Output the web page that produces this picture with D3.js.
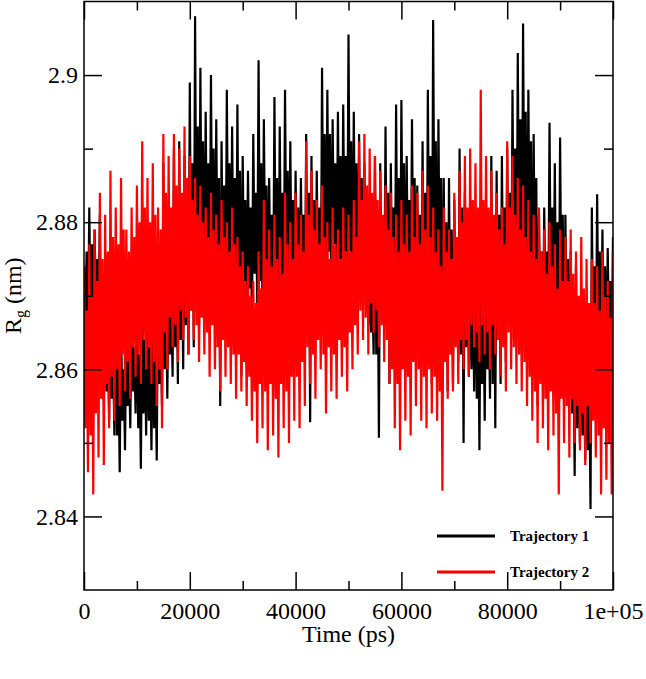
<!DOCTYPE html>
<html>
<head>
<meta charset="utf-8">
<script src="https://cdn.jsdelivr.net/npm/d3@7"></script>
<style>
  body { margin: 0; background: #fff; }
  svg { display: block; font-family: "Liberation Serif", "Times New Roman", serif; }
</style>
</head>
<body>
<div id="chart-area"></div>
<script>
// Rg of two trajectories, every 1000 ps:
// spike top (Hi), solid band top/bottom (CoreHi/CoreLo) and spike bottom (Lo)
const timeSteps = d3.range(0, 100001, 1000)

const traj1Hi = [2.874,2.882,2.879,2.881,2.872,2.870,2.869,2.867,2.866,2.868,
  2.869,2.870,2.869,2.866,2.873,2.888,2.874,2.890,2.891,2.889,
  2.899,2.908,2.901,2.895,2.900,2.894,2.891,2.898,2.893,2.896,
  2.889,2.887,2.892,2.902,2.894,2.886,2.897,2.893,2.898,2.891,
  2.887,2.886,2.892,2.889,2.887,2.901,2.898,2.894,2.895,2.896,
  2.9055,2.895,2.892,2.888,2.872,2.889,2.888,2.893,2.888,2.896,
  2.8966,2.889,2.894,2.885,2.891,2.898,2.9075,2.894,2.886,2.886,
  2.883,2.890,2.884,2.878,2.877,2.876,2.875,2.889,2.887,2.889,
  2.890,2.898,2.903,2.907,2.898,2.892,2.881,2.882,2.8935,2.888,
  2.8915,2.881,2.876,2.874,2.870,2.868,2.882,2.8838,2.879,2.8765,2.878]
const traj1CoreHi = [2.876,2.877,2.875,2.868,2.864,2.862,2.861,2.860,2.862,2.863,
  2.862,2.864,2.863,2.862,2.866,2.872,2.870,2.875,2.878,2.879,
  2.888,2.893,2.891,2.888,2.890,2.886,2.885,2.888,2.886,2.887,
  2.883,2.882,2.884,2.888,2.885,2.881,2.886,2.884,2.887,2.883,
  2.882,2.881,2.884,2.883,2.882,2.892,2.892,2.888,2.889,2.889,
  2.891,2.888,2.886,2.882,2.871,2.877,2.880,2.884,2.882,2.886,
  2.888,2.883,2.886,2.881,2.884,2.889,2.891,2.886,2.880,2.879,
  2.877,2.882,2.878,2.873,2.872,2.870,2.869,2.880,2.881,2.882,
  2.884,2.890,2.894,2.895,2.891,2.886,2.876,2.876,2.882,2.880,
  2.881,2.875,2.866,2.864,2.862,2.860,2.874,2.876,2.874,2.872,2.872]
const traj1CoreLo = [2.867,2.866,2.869,2.861,2.857,2.856,2.851,2.853,2.855,2.857,
  2.852,2.854,2.853,2.852,2.858,2.860,2.862,2.863,2.864,2.866,
  2.868,2.872,2.874,2.874,2.873,2.870,2.872,2.873,2.871,2.870,
  2.872,2.871,2.873,2.872,2.873,2.871,2.870,2.872,2.874,2.871,
  2.870,2.870,2.868,2.869,2.870,2.874,2.876,2.877,2.875,2.876,
  2.876,2.874,2.873,2.870,2.865,2.862,2.869,2.867,2.871,2.870,
  2.872,2.870,2.872,2.869,2.868,2.873,2.874,2.870,2.865,2.864,
  2.866,2.862,2.863,2.860,2.856,2.858,2.860,2.858,2.864,2.866,
  2.868,2.872,2.875,2.876,2.874,2.870,2.867,2.868,2.869,2.866,
  2.867,2.863,2.854,2.852,2.851,2.849,2.862,2.864,2.863,2.864,2.865]
const traj1Lo = [2.864,2.862,2.866,2.858,2.853,2.851,2.846,2.849,2.852,2.854,
  2.8465,2.851,2.849,2.8476,2.855,2.856,2.859,2.858,2.860,2.862,
  2.863,2.866,2.868,2.869,2.866,2.855,2.867,2.869,2.866,2.859,
  2.868,2.866,2.869,2.867,2.868,2.866,2.863,2.867,2.869,2.866,
  2.865,2.866,2.8528,2.864,2.865,2.868,2.870,2.871,2.869,2.871,
  2.870,2.869,2.868,2.866,2.862,2.8507,2.866,2.858,2.867,2.865,
  2.866,2.864,2.867,2.863,2.861,2.858,2.862,2.860,2.857,2.858,
  2.861,2.850,2.859,2.857,2.849,2.853,2.856,2.852,2.858,2.861,
  2.864,2.865,2.866,2.864,2.862,2.855,2.863,2.864,2.865,2.862,
  2.859,2.858,2.8455,2.850,2.8476,2.841,2.857,2.860,2.859,2.861,2.860]

const traj2Hi = [2.874,2.877,2.879,2.884,2.881,2.887,2.882,2.886,2.879,2.882,
  2.885,2.891,2.886,2.888,2.882,2.892,2.889,2.892,2.890,2.893,
  2.889,2.886,2.885,2.882,2.884,2.881,2.883,2.880,2.882,2.878,
  2.876,2.874,2.872,2.876,2.883,2.879,2.881,2.878,2.884,2.880,
  2.884,2.881,2.891,2.887,2.883,2.885,2.880,2.882,2.879,2.882,
  2.881,2.883,2.891,2.892,2.890,2.889,2.887,2.885,2.884,2.881,
  2.883,2.881,2.885,2.884,2.887,2.885,2.882,2.879,2.882,2.879,
  2.884,2.887,2.889,2.890,2.888,2.898,2.889,2.887,2.884,2.882,
  2.891,2.889,2.886,2.885,2.883,2.881,2.882,2.879,2.880,2.877,
  2.879,2.878,2.879,2.876,2.878,2.875,2.875,2.874,2.876,2.872,2.876]
const traj2CoreHi = [2.868,2.870,2.872,2.875,2.876,2.878,2.877,2.879,2.876,2.878,
  2.880,2.882,2.880,2.881,2.879,2.884,2.882,2.885,2.884,2.886,
  2.883,2.881,2.880,2.878,2.879,2.877,2.878,2.876,2.877,2.874,
  2.872,2.870,2.869,2.871,2.875,2.874,2.875,2.873,2.877,2.875,
  2.877,2.876,2.881,2.879,2.877,2.878,2.875,2.877,2.875,2.876,
  2.876,2.878,2.883,2.885,2.884,2.883,2.881,2.879,2.878,2.876,
  2.877,2.876,2.878,2.877,2.879,2.878,2.876,2.874,2.876,2.875,
  2.878,2.880,2.882,2.883,2.882,2.883,2.882,2.881,2.879,2.877,
  2.882,2.881,2.879,2.878,2.876,2.875,2.876,2.873,2.874,2.871,
  2.872,2.872,2.873,2.870,2.871,2.869,2.869,2.868,2.870,2.867,2.869]
const traj2CoreLo = [2.852,2.851,2.854,2.856,2.858,2.859,2.860,2.862,2.861,2.863,
  2.862,2.864,2.863,2.861,2.860,2.865,2.867,2.866,2.868,2.867,
  2.868,2.866,2.867,2.865,2.866,2.863,2.864,2.863,2.862,2.862,
  2.861,2.859,2.857,2.858,2.857,2.858,2.856,2.858,2.857,2.859,
  2.859,2.861,2.863,2.862,2.864,2.862,2.863,2.862,2.864,2.863,
  2.865,2.866,2.868,2.867,2.869,2.868,2.866,2.864,2.860,2.858,
  2.860,2.859,2.861,2.860,2.859,2.860,2.859,2.857,2.861,2.862,
  2.863,2.864,2.864,2.866,2.865,2.866,2.865,2.866,2.864,2.863,
  2.865,2.863,2.862,2.861,2.859,2.857,2.858,2.856,2.857,2.854,
  2.856,2.855,2.856,2.855,2.854,2.855,2.853,2.851,2.852,2.850,2.851]
const traj2Lo = [2.846,2.843,2.848,2.847,2.852,2.853,2.855,2.857,2.856,2.859,
  2.858,2.860,2.858,2.855,2.852,2.860,2.863,2.861,2.864,2.862,
  2.864,2.861,2.862,2.859,2.860,2.857,2.859,2.858,2.856,2.857,
  2.855,2.853,2.850,2.852,2.849,2.851,2.848,2.852,2.850,2.853,
  2.852,2.855,2.858,2.856,2.860,2.854,2.857,2.856,2.859,2.857,
  2.860,2.862,2.864,2.862,2.865,2.863,2.861,2.858,2.852,2.849,
  2.853,2.851,2.855,2.853,2.852,2.854,2.853,2.8435,2.856,2.857,
  2.858,2.860,2.859,2.863,2.861,2.862,2.860,2.862,2.859,2.857,
  2.860,2.858,2.857,2.855,2.853,2.850,2.852,2.849,2.851,2.843,
  2.850,2.848,2.850,2.849,2.847,2.850,2.848,2.843,2.845,2.843,2.845]

const seriesNames = ["Trajectory 1", "Trajectory 2"]
const seriesColors = ["#000000", "#ff0000"]
const xTicks = [0, 20000, 40000, 60000, 80000, 100000]
const xMinorTicks = [10000, 30000, 50000, 70000, 90000]
const yTicks = [2.84, 2.86, 2.88, 2.9]
const yMinorTicks = [2.85, 2.87, 2.89]

const MARGIN = {LEFT:84, RIGHT:33, TOP:1.5, BOTTOM:89}
const W = 646, H = 679
const WIDTH = W - MARGIN.LEFT - MARGIN.RIGHT
const HEIGHT = H - MARGIN.TOP - MARGIN.BOTTOM

const svg = d3.select("#chart-area").append("svg")
  .attr("width", W)
  .attr("height", H)

svg.append("rect").attr("width", W).attr("height", H).attr("fill", "#fff")

const g = svg.append("g")
  .attr("transform", `translate(${MARGIN.LEFT},${MARGIN.TOP})`)

const x = d3.scaleLinear().domain([0, 100000]).range([0, WIDTH])
const y = d3.scaleLinear().domain([2.83, 2.91]).range([HEIGHT, 0])

g.append("clipPath").attr("id", "plot-clip")
  .append("rect").attr("width", WIDTH).attr("height", HEIGHT)

// within each 1000 ps step: spike top, band bottom, band top, spike bottom
const trace = (hi, coreHi, coreLo, lo) => {
  const pts = []
  timeSteps.forEach((t, i) => {
    pts.push([t, hi[i]])
    pts.push([t + 250, coreLo[i]])
    pts.push([t + 500, coreHi[i]])
    pts.push([t + 750, lo[i]])
  })
  return pts
}
const series = [
  trace(traj1Hi, traj1CoreHi, traj1CoreLo, traj1Lo),
  trace(traj2Hi, traj2CoreHi, traj2CoreLo, traj2Lo)
]

const line = d3.line()
  .x(d => x(d[0]))
  .y(d => y(d[1]))

g.append("g").attr("clip-path", "url(#plot-clip)")
  .selectAll("path")
  .data(series)
  .enter().append("path")
    .attr("d", line)
    .attr("fill", "none")
    .attr("stroke", (d, i) => seriesColors[i])
    .attr("stroke-width", 2.2)
    .attr("stroke-linejoin", "bevel")

// ticks on all four sides, pointing in
const tickStyle = sel => {
  sel.select(".domain").remove()
  sel.selectAll("line").attr("stroke", "#000").attr("stroke-width", 1.5)
}
const labelStyle = sel => sel.selectAll("text")
  .attr("font-size", 24)
  .attr("font-family", "'Liberation Serif', serif")
  .attr("fill", "#000")

g.append("g").attr("transform", `translate(0,${HEIGHT})`)
  .call(d3.axisBottom(x).tickValues(xTicks).tickSize(-18).tickPadding(12)
    .tickFormat(d => d === 100000 ? "1e+05" : d))
  .call(tickStyle)
  .call(labelStyle)
g.append("g").attr("transform", `translate(0,${HEIGHT})`)
  .call(d3.axisBottom(x).tickValues(xMinorTicks).tickSize(-9).tickFormat(""))
  .call(tickStyle)
g.append("g")
  .call(d3.axisTop(x).tickValues(xTicks).tickSize(-18).tickFormat(""))
  .call(tickStyle)
g.append("g")
  .call(d3.axisTop(x).tickValues(xMinorTicks).tickSize(-9).tickFormat(""))
  .call(tickStyle)

g.append("g")
  .call(d3.axisLeft(y).tickValues(yTicks).tickSize(-18).tickPadding(6)
    .tickFormat(d => +d.toFixed(2)))
  .call(tickStyle)
  .call(labelStyle)
g.append("g")
  .call(d3.axisLeft(y).tickValues(yMinorTicks).tickSize(-9).tickFormat(""))
  .call(tickStyle)
g.append("g").attr("transform", `translate(${WIDTH},0)`)
  .call(d3.axisRight(y).tickValues(yTicks).tickSize(-18).tickFormat(""))
  .call(tickStyle)
g.append("g").attr("transform", `translate(${WIDTH},0)`)
  .call(d3.axisRight(y).tickValues(yMinorTicks).tickSize(-9).tickFormat(""))
  .call(tickStyle)

g.append("rect")
  .attr("width", WIDTH)
  .attr("height", HEIGHT)
  .attr("fill", "none")
  .attr("stroke", "#000")
  .attr("stroke-width", 1.5)

// axis titles
g.append("text")
  .attr("x", WIDTH / 2)
  .attr("y", HEIGHT + 52)
  .attr("text-anchor", "middle")
  .attr("font-size", 24)
  .text("Time (ps)")

const yTitle = g.append("text")
  .attr("transform", `translate(${21 - MARGIN.LEFT},${HEIGHT / 2}) rotate(-90)`)
  .attr("text-anchor", "middle")
  .attr("font-size", 24)
yTitle.append("tspan").text("R")
yTitle.append("tspan").attr("font-size", 16).attr("dy", 5).text("g")
yTitle.append("tspan").attr("dy", -5).text(" (nm)")

// legend
const legend = g.append("g")
  .attr("transform", `translate(${437 - MARGIN.LEFT},${536 - MARGIN.TOP})`)
seriesNames.forEach((name, i) => {
  const row = legend.append("g").attr("transform", `translate(0,${i * 36})`)
  row.append("line")
    .attr("x1", 0).attr("x2", 58)
    .attr("stroke", seriesColors[i])
    .attr("stroke-width", 3)
  row.append("text")
    .attr("x", 73)
    .attr("y", 5)
    .attr("font-size", 15)
    .attr("font-weight", "bold")
    .text(name)
})
</script>
</body>
</html>
